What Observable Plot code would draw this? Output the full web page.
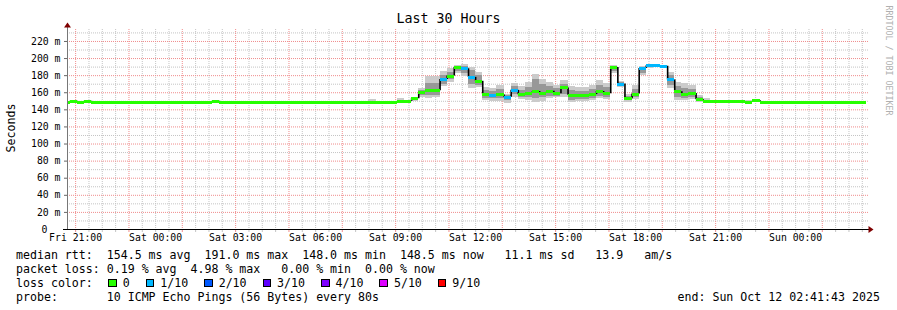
<!DOCTYPE html>
<html><head><meta charset="utf-8">
<script src="https://cdn.jsdelivr.net/npm/d3@7"></script>
<script src="https://cdn.jsdelivr.net/npm/@observablehq/plot@0.6"></script>
<style>
html,body{margin:0;padding:0;background:#fff;}
#wrap{position:relative;width:897px;height:310px;overflow:hidden;font-family:"DejaVu Sans Mono",monospace;color:#000;background:#fff;}
#title{position:absolute;left:0;top:11px;width:897px;text-align:center;font-size:13.3px;line-height:16px;}
#chart{position:absolute;left:0;top:0;}
#legend{position:absolute;left:16px;top:248px;font-size:11.6px;line-height:14px;white-space:pre;}
#end{position:absolute;left:677.5px;top:290px;font-size:11.6px;line-height:14px;white-space:pre;}
.sw{display:inline-block;width:8.5px;height:8.5px;box-sizing:border-box;border:1px solid #000;vertical-align:baseline;margin-right:6px;}
.lab{margin-right:16px;}
</style></head>
<body>
<div id="wrap">
  <div id="chart"></div>
  <div id="title"></div>
  <div id="legend"></div>
  <div id="end"></div>
</div>
<script>
// ---------- data ----------
const titleText = "Last 30 Hours";
const yAxisLabel = "Seconds";
const creditText = "RRDTOOL / TOBI OETIKER";

const start = new Date(2025, 9, 10, 20, 41, 43);
const end = new Date(2025, 9, 12, 2, 41, 43);
const binOrigin = new Date(2025, 9, 10, 20, 32, 0); // start of first 16-minute bin
const binMinutes = 16;

// median rtt (ms) per 16-min bin
const median = [
  149,150,149,150,149,149,149,149,149,149,
  149,149,149,149,149,149,149,149,149,149,
  149,150,149,149,149,149,149,149,149,149,
  149,149,149,149,149,149,149,149,149,149,
  149,149,149,149,149,149,149,150,150,153,
  160.4,162.4,162.4,175.5,179.5,189.5,188,178,173.4,158,
  157.2,157.4,154.8,162.8,157.6,159.2,161.5,159.7,161.7,158.8,
  165.6,157,156.5,156.2,157.9,161.5,158.8,189.5,170.1,153,
  158.5,188.5,191.5,191.5,191,175,161.3,158.5,159,151.8,
  150.2,150.2,150,150,149.5,149.5,149,150.5,149,149,
  149,149,149,149,149,149,149,149,149,149,
  149,149,149
];
// loss class per bin (index into lossColors)
const loss = [
  0,0,0,0,0,0,0,0,0,0,
  0,0,0,0,0,0,0,0,0,0,
  0,0,0,0,0,0,0,0,0,0,
  0,0,0,0,0,0,0,0,0,0,
  0,0,0,0,0,0,0,0,0,0,
  0,0,0,1,0,0,1,1,0,0,
  1,0,1,1,0,0,0,0,0,0,
  0,0,0,0,0,0,0,0,1,0,
  0,1,1,1,1,1,0,0,0,0,
  0,0,0,0,0,0,0,0,0,0,
  0,0,0,0,0,0,0,0,0,0,
  0,0,0
];
// smoke: outer spread (ms)
const smokeLo = [
  null,148.3,null,148.3,null,null,null,null,null,null,
  null,null,null,null,null,null,null,null,null,null,
  null,null,null,null,null,null,null,null,null,null,
  null,null,null,null,148,null,null,null,null,null,
  null,null,148,149,null,null,null,149.5,null,150,
  154.6,152.7,154.6,167.5,172.2,182,179.3,164.4,166.4,150.7,
  150,150,148,154.6,151.9,150.7,148.7,149.5,153.4,154.6,
  154.6,148.7,149.5,149.5,150.7,152.7,151.9,182,166.4,148.7,
  151.9,180,188.5,190.5,189.5,164.4,150.7,150.7,152,148.7,
  149.5,null,null,null,null,null,148.8,149.5,null,null,
  null,null,null,null,null,null,null,null,null,null,
  null,null,null
];
const smokeHi = [
  null,150,null,150,null,null,null,null,null,null,
  null,null,null,null,null,null,null,null,null,null,
  null,null,null,null,null,null,null,null,null,null,
  null,null,null,null,149,null,null,null,null,null,
  null,null,149,152,null,null,null,153.8,null,155,
  164.4,179.3,179.3,184.8,187.9,191.8,193,189.8,184,166.4,
  165,169,158.5,170.3,167.5,172.2,180.8,175.4,171.5,169,
  174.2,167.5,166.4,165.6,168.3,174.2,170.3,191.8,173,157.4,
  168.3,191,192.5,192,192,184,172.2,170.3,168,156.6,
  153.4,null,null,null,null,null,150.8,152,null,null,
  null,null,null,null,null,null,null,null,null,null,
  null,null,null
];
// smoke: inner (denser) spread (ms)
const innerLo = [
  null,null,null,null,null,null,null,null,null,null,
  null,null,null,null,null,null,null,null,null,null,
  null,null,null,null,null,null,null,null,null,null,
  null,null,null,null,null,null,null,null,null,null,
  null,null,null,null,null,null,null,null,null,152,
  157,157.3,157.3,170,175,185,182,170,169,153,
  153,153,151,158,154,154,152.7,154,156,156,
  158,151,152,152,153,156,154,185,168,150.5,
  154,183,190,null,null,168,154,153,154,150,
  null,null,null,null,null,null,null,null,null,null,
  null,null,null,null,null,null,null,null,null,null,
  null,null,null
];
const innerHi = [
  null,null,null,null,null,null,null,null,null,null,
  null,null,null,null,null,null,null,null,null,null,
  null,null,null,null,null,null,null,null,null,null,
  null,null,null,null,null,null,null,null,null,null,
  null,null,null,null,null,null,null,null,null,154,
  163,170.3,170.3,180,184,190.5,190.5,186,180,163,
  162,164,157,167,163,166,175.4,170,167,165,
  170,163,162,162,164,168,166,190,172,156,
  164,190,192,null,null,180,167,165,164,155,
  null,null,null,null,null,null,null,null,null,null,
  null,null,null,null,null,null,null,null,null,null,
  null,null,null
];

const lossColors = ["#26ff00","#00b8ff","#0059ff","#5e00ff","#7e00ff","#dd00ff","#ff0000"];
const lossLabels = ["0","1/10","2/10","3/10","4/10","5/10","9/10"];

const yMajor = [20,40,60,80,100,120,140,160,180,200,220];
const yMinor = [10,30,50,70,90,110,130,150,170,190,210,230];
const yTickValues = [20,40,60,80,100,120,140,160,180,200,220];
const yTickLabels = ["20 m","40 m","60 m","80 m","100 m","120 m","140 m","160 m","180 m","200 m","220 m"];
const yZeroLabel = "0";

const xTickTimes = ["2025-10-10T21:00","2025-10-11T00:00","2025-10-11T03:00","2025-10-11T06:00","2025-10-11T09:00",
  "2025-10-11T12:00","2025-10-11T15:00","2025-10-11T18:00","2025-10-11T21:00","2025-10-12T00:00"];
const xTickLabels = ["Fri 21:00","Sat 00:00","Sat 03:00","Sat 06:00","Sat 09:00","Sat 12:00","Sat 15:00","Sat 18:00","Sat 21:00","Sun 00:00"];

const statsMedian = "median rtt:  154.5 ms avg  191.0 ms max  148.0 ms min  148.5 ms now   11.1 ms sd   13.9   am/s";
const statsLoss = "packet loss: 0.19 % avg  4.98 % max   0.00 % min  0.00 % now";
const probeText = "probe:       10 ICMP Echo Pings (56 Bytes) every 80s";
const endText = "end: Sun Oct 12 02:41:43 2025";

// ---------- build ----------
const binMs = binMinutes * 60000;
const bins = median.map((m, i) => ({
  t0: new Date(+binOrigin + i * binMs),
  t1: new Date(+binOrigin + (i + 1) * binMs),
  median: m, prev: i > 0 ? median[i - 1] : m,
  color: lossColors[loss[i]],
  lo: smokeLo[i], hi: smokeHi[i], ilo: innerLo[i], ihi: innerHi[i]
}));
const xTicks = xTickTimes.map(s => new Date(s));
const xLabelMap = new Map(xTicks.map((d, i) => [+d, xTickLabels[i]]));
const yLabelMap = new Map(yTickValues.map((v, i) => [v, yTickLabels[i]]));

const halfHours = d3.timeMinute.every(30).range(start, end);
const vMajor = halfHours.filter(d => d.getMinutes() === 0 && d.getHours() % 2 === 1);
const vMinor = halfHours.filter(d => !(d.getMinutes() === 0 && d.getHours() % 2 === 1));

const arrowUp = {draw(c) { c.moveTo(0, -2.5); c.lineTo(3.5, 2.5); c.lineTo(-3.5, 2.5); c.closePath(); }};
const arrowRight = {draw(c) { c.moveTo(2.5, 0); c.lineTo(-2.5, -3.5); c.lineTo(-2.5, 3.5); c.closePath(); }};

const gridGray = "#c4c4c4", gridPink = "#f08c8c";

const chart = Plot.plot({
  width: 897, height: 248,
  marginTop: 29, marginBottom: 19, marginLeft: 67, marginRight: 30,
  style: {fontFamily: '"DejaVu Sans Mono", monospace', fontSize: "9.8px", color: "#000", background: "transparent", overflow: "visible"},
  x: {type: "time", domain: [start, end], label: null},
  y: {domain: [0, 234], label: null},
  color: {type: "identity"},
  marks: [
    Plot.ruleY(yMinor, {stroke: gridGray, strokeDasharray: "1,1", insetRight: -1}),
    Plot.ruleX(vMinor, {stroke: gridGray, strokeDasharray: "1,1"}),
    Plot.ruleY(yMajor, {stroke: gridPink, strokeDasharray: "1,1", insetRight: -1}),
    Plot.ruleX(vMajor, {stroke: gridPink, strokeDasharray: "1,1"}),
    Plot.rect(bins.filter(d => d.lo != null), {x1: "t0", x2: "t1", y1: "lo", y2: "hi", fill: "#cbcbcb", clip: true, shapeRendering: "crispEdges"}),
    Plot.rect(bins.filter(d => d.ilo != null), {x1: "t0", x2: "t1", y1: "ilo", y2: "ihi", fill: "#989898", clip: true, shapeRendering: "crispEdges"}),
    Plot.ruleX(bins.slice(1), {x: "t0", y1: "prev", y2: "median", stroke: "#000", strokeWidth: 1.6, clip: true}),
    Plot.ruleY(bins, {y: "median", x1: "t0", x2: "t1", stroke: "color", strokeWidth: 3, clip: true, shapeRendering: "crispEdges"}),
    Plot.axisX(vMinor, {tickSize: 3, text: null, stroke: gridGray, label: null}),
    Plot.axisX(vMajor, {tickSize: 3, text: null, stroke: gridPink, label: null}),
    Plot.axisX(xTicks, {tickSize: 0, tickPadding: 5, tickFormat: d => xLabelMap.get(+d), fontSize: 9.8, fill: "#000", label: null}),
    Plot.axisY(yTickValues, {tickSize: 3, tickPadding: 4, tickFormat: d => yLabelMap.get(d), fontSize: 9.8, stroke: "#666", fill: "#000", label: null}),
    Plot.text([{v: 0, label: yZeroLabel}], {frameAnchor: "left", y: "v", text: "label", dx: -20, textAnchor: "end", lineAnchor: "middle", fontSize: 9.8, fill: "#000"}),
    Plot.ruleX([start], {stroke: "#777", insetTop: -3}),
    Plot.ruleY([0], {stroke: "#000", insetLeft: -4, insetRight: -2}),
    Plot.dot([{t: start, v: 234}], {x: "t", y: "v", dy: -4.5, symbol: arrowUp, fill: "#7f0000", stroke: "none"}),
    Plot.dot([{t: end, v: 0}], {x: "t", y: "v", dx: 3.5, symbol: arrowRight, fill: "#7f0000", stroke: "none"}),
    Plot.text([yAxisLabel], {frameAnchor: "left", text: d => d, dx: -56.5, dy: -1.5, rotate: -90, textAnchor: "middle", lineAnchor: "middle", fontSize: 11.6, fill: "#000"}),
    Plot.text([creditText], {frameAnchor: "top-right", text: d => d, dx: 21, dy: 31, rotate: 90, textAnchor: "middle", lineAnchor: "middle", fontSize: 8.3, fill: "#b0b0b0"})
  ]
});
document.getElementById("chart").appendChild(chart);

document.getElementById("title").textContent = titleText;

const legend = document.getElementById("legend");
function line(text) { const d = document.createElement("div"); d.textContent = text; legend.appendChild(d); return d; }
line(statsMedian);
line(statsLoss);
const lc = line("loss color:  ");
lossColors.forEach((c, i) => {
  const sw = document.createElement("span");
  sw.className = "sw"; sw.style.background = c;
  if (i === 0) sw.style.marginLeft = "1.5px";
  lc.appendChild(sw);
  const lb = document.createElement("span");
  lb.className = "lab"; lb.textContent = lossLabels[i];
  lc.appendChild(lb);
});
line(probeText);
document.getElementById("end").textContent = endText;
</script>
</body></html>
